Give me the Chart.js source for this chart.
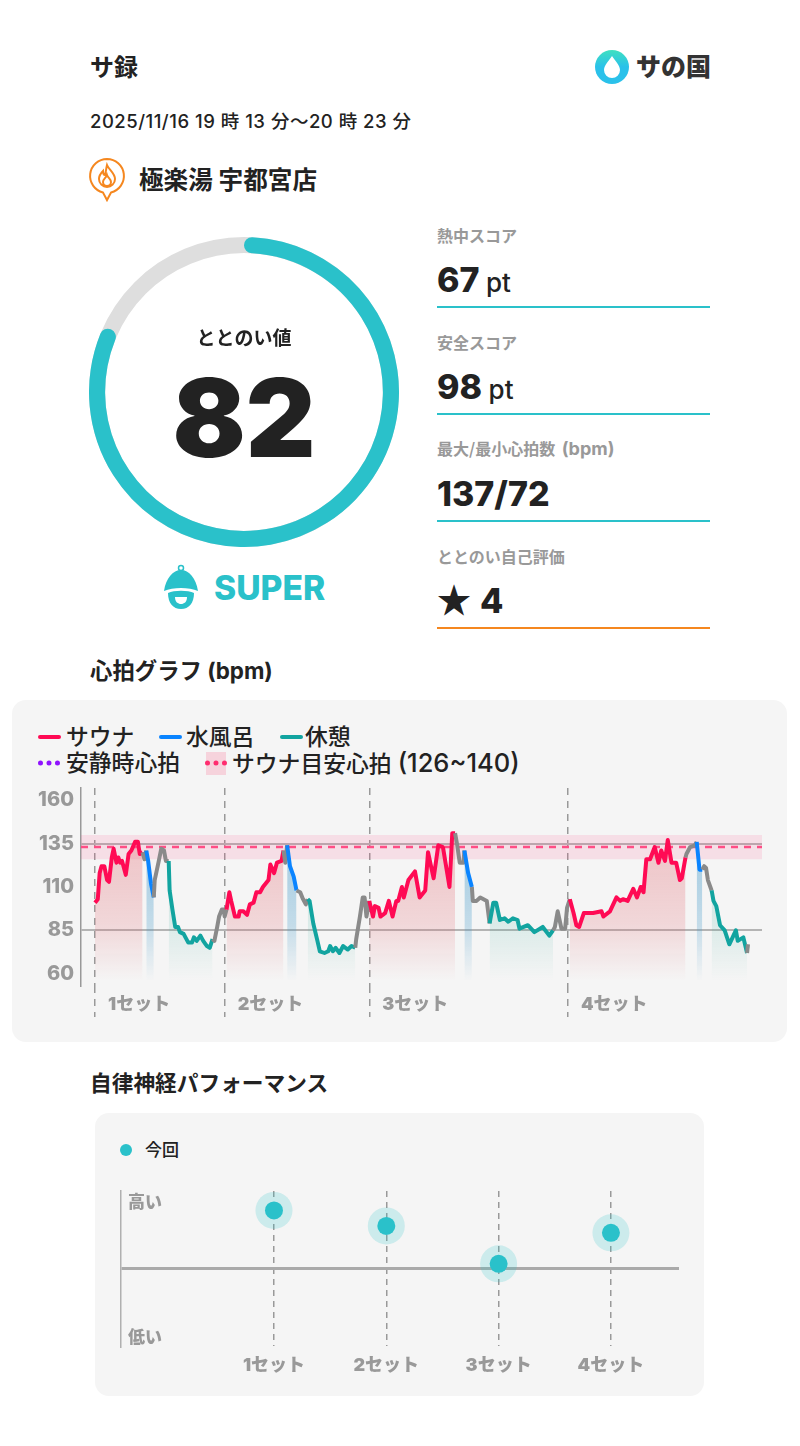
<!DOCTYPE html>
<html lang="ja">
<head>
<meta charset="utf-8">
<title>サ録</title>
<script src="https://cdn.jsdelivr.net/npm/chart.js@4/dist/chart.umd.min.js"></script>
<style>
html, body { margin: 0; padding: 0; background: #fff; }
body { position: relative; width: 800px; height: 1446px; overflow: hidden; font-family: Inter, "Noto Sans CJK JP", sans-serif; color: #222; }
.t { position: absolute; line-height: 1; white-space: nowrap; transform: translateY(-50%); }
.b { font-weight: 700; }
.cap { font-size: 16px; font-weight: 700; color: #999; font-family: "Noto Sans CJK JP", sans-serif; margin-top: -1px; }
.big { font-size: 34px; font-weight: 800; }
.unit { font-size: 26px; font-weight: 500; margin-left: 2px; }
.rule { position: absolute; left: 437px; width: 273px; height: 2px; background: #2ac1ca; }
.card { position: absolute; background: #f5f5f5; border-radius: 14px; }
.swatch { position: absolute; height: 4px; border-radius: 2px; transform: translateY(-50%); }
.leg { font-size: 22.8px; font-weight: 500; }
canvas { position: absolute; }
</style>
</head>
<body>
<div class="t b" style="left:90px;top:68px;font-size:24px">サ録</div>
<div class="t" style="left:90px;top:121px;font-size:18.5px;font-weight:500;letter-spacing:.5px">2025/11/16 19 時 13 分～20 時 23 分</div>

<svg style="position:absolute;left:594px;top:49px" width="36" height="36" viewBox="0 0 36 36">
  <defs><linearGradient id="logoGrad" x1="0" y1="0" x2="0" y2="1"><stop offset="0" stop-color="#3fe0c0"/><stop offset=".5" stop-color="#2ac1ea"/></linearGradient></defs>
  <circle cx="18" cy="18" r="17" fill="url(#logoGrad)"/>
  <path d="M18 7 C21 12 26 16 26 21 A8 8 0 0 1 10 21 C10 16 15 12 18 7Z" fill="#fff"/>
</svg>
<div class="t" style="left:636px;top:67px;font-size:25px;font-weight:900;color:#333">サの国</div>

<svg style="position:absolute;left:88px;top:157px" width="38" height="46" viewBox="0 0 38 46">
  <path d="M19 2 A17 17 0 0 1 23 35.5 L19 43 L15 35.5 A17 17 0 0 1 19 2Z" fill="none" stroke="#f5871f" stroke-width="2"/>
  <path d="M19 8 C21 13 27 16 27 22 A8 8 0 0 1 11 22 C11 18 13 16 15 14 C15 17 16 18 17 18 C18 15 18 12 19 8Z M19 18 C20 21 23 22 23 25 A4 4 0 0 1 15 25 C15 22 18 21 19 18Z" fill="none" stroke="#f5871f" stroke-width="2"/>
</svg>
<div class="t b" style="left:139px;top:180px;font-size:24.6px">極楽湯 宇都宮店</div>

<canvas id="ringTrack" width="310" height="310" style="left:89px;top:237px"></canvas>
<canvas id="ringValue" width="310" height="310" style="left:89px;top:237px"></canvas>
<div class="t b" style="left:89px;width:310px;text-align:center;top:338px;font-size:19px">ととのい値</div>
<div class="t" style="left:89px;width:310px;text-align:center;top:418px;font-size:108px;font-weight:900">82</div>

<svg style="position:absolute;left:161px;top:564px" width="40" height="48" viewBox="0 0 40 48">
  <circle cx="20" cy="4" r="2.5" fill="none" stroke="#2ac1ca" stroke-width="1.5"/>
  <path d="M3 27 C5 14 12 6 20 6 C28 6 35 14 37 27 C28 23 12 23 3 27Z" fill="#2ac1ca"/>
  <path d="M7 29 C13 26 27 26 33 29 C33 39 28 45 20 45 C12 45 7 39 7 29Z" fill="#2ac1ca"/>
  <path d="M14 33 H26 C26 38 23 40 20 40 C17 40 14 38 14 33Z" fill="#fff"/>
</svg>
<div class="t" style="left:214px;top:588px;font-size:33.6px;font-weight:800;color:#2ac1ca">SUPER</div>

<div class="t cap" style="left:437px;top:236px">熱中スコア</div>
<div class="t" style="left:437px;top:280px"><span class="big">67</span> <span class="unit">pt</span></div>
<div class="rule" style="top:306px"></div>
<div class="t cap" style="left:437px;top:343px">安全スコア</div>
<div class="t" style="left:437px;top:387px"><span class="big">98</span> <span class="unit">pt</span></div>
<div class="rule" style="top:413px"></div>
<div class="t cap" style="left:437px;top:450px">最大/最小心拍数 <span style="font-family:Inter;font-size:18px;margin-left:3px">(bpm)</span></div>
<div class="t big" style="left:437px;top:494px">137/72</div>
<div class="rule" style="top:520px"></div>
<div class="t cap" style="left:437px;top:557px">ととのい自己評価</div>
<div class="t" style="left:437px;top:600px"><span class="big" style="font-family:'Noto Sans CJK JP'">★</span><span class="big" style="margin-left:9px">4</span></div>
<div class="rule" style="top:627px;background:#f5871f"></div>

<div class="t b" style="left:90px;top:671px;font-size:22.4px">心拍グラフ (bpm)</div>
<div class="card" style="left:12px;top:700px;width:775px;height:342px"></div>
<div class="swatch" style="left:38px;top:737px;width:23px;background:#ff0a54"></div>
<div class="t leg" style="left:66px;top:737px">サウナ</div>
<div class="swatch" style="left:159px;top:737px;width:23px;background:#0a84ff"></div>
<div class="t leg" style="left:186px;top:737px">水風呂</div>
<div class="swatch" style="left:280px;top:737px;width:23px;background:#12a4a0"></div>
<div class="t leg" style="left:305px;top:737px">休憩</div>
<div class="swatch" style="left:38px;top:763px;width:22px;height:0;border-radius:0;border-top:5px dotted #9013fe"></div>
<div class="t leg" style="left:66px;top:763px">安静時心拍</div>
<div style="position:absolute;left:206px;top:752px;width:20px;height:23px;background:#f6d3dc"></div>
<div class="swatch" style="left:205px;top:763px;width:22px;height:0;border-radius:0;border-top:5px dotted #ff2d6f"></div>
<div class="t leg" style="left:232px;top:763px">サウナ目安心拍 <span style="font-size:25.5px">(126~140)</span></div>
<canvas id="heartChart" width="775" height="250" style="left:12px;top:780px"></canvas>

<div class="t b" style="left:90px;top:1084px;font-size:21.7px">自律神経パフォーマンス</div>
<div class="card" style="left:95px;top:1113px;width:609px;height:283px"></div>
<div style="position:absolute;left:120px;top:1144px;width:12px;height:12px;border-radius:50%;background:#2ac1ca"></div>
<div class="t" style="left:145px;top:1150px;font-size:17px;font-weight:500">今回</div>
<canvas id="nerveChart" width="609" height="206" style="left:95px;top:1180px"></canvas>

<script>
// Heart rate trace: minutes since 19:13, bpm
const minutes = [
    0, 0.3, 0.5, 0.7, 1.0, 1.3, 1.5, 1.8, 2.0, 2.3, 2.5, 2.7, 2.9, 3.3, 3.6, 3.9, 4.3, 4.6, 4.8, 5.1,
    5.3, 5.5, 5.7, 6.0, 6.3, 6.4, 6.8, 7.1, 7.4, 7.6,
    7.9, 8.0, 8.3, 8.6, 8.9, 9.1, 9.5, 10, 10.4, 10.6, 10.9, 11.3, 11.6, 12, 12.3, 12.6,
    12.8, 13.1, 13.3, 13.6, 13.8, 13.9,
    14.1, 14.4, 14.6, 15, 15.4, 15.5, 15.9, 16.3, 16.6, 17, 17.3, 17.7, 18, 18.6, 18.8, 19.2, 19.5, 20, 20.2,
    20.4, 20.6, 20.9, 21.3, 21.6, 22, 22.3, 22.6,
    22.8, 23, 23.4, 23.8, 24.1, 24.6, 25, 25.2, 25.5, 25.8, 26.2, 26.6, 27.1, 27.5, 27.9,
    28, 28.4, 28.7, 28.9, 29.1,
    29.4, 29.8, 30, 30.4, 30.6, 31.1, 31.5, 31.9, 32.3, 32.5, 32.9, 33.1, 33.6, 34.3, 34.8, 35.4, 35.7, 36.3, 36.8, 37.3, 38, 38.3, 38.6,
    38.8, 39.1, 39.5, 39.6, 40, 40.4, 40.5, 40.9, 41.3, 42, 42.3,
    42.7, 43, 43.4, 43.9, 44.3, 44.8, 45.3, 45.5, 46.4, 47.1, 48, 48.7, 49.1,
    49.3, 49.6, 50, 50.4, 50.6,
    50.9, 51.3, 51.6, 51.9, 52.4, 53.4, 54.3, 54.5, 55.2, 55.9, 56.3, 56.6, 57.1, 57.7, 58.1, 58.5, 58.8, 59.1, 59.5, 60, 60.4, 60.7, 61.1, 61.4, 61.8, 62.3, 62.7, 62.9, 63.3,
    63.4, 63.8, 64.3, 64.5, 64.8, 65.1, 65.3, 65.5, 65.7, 66.1,
    66.3, 66.6, 67, 67.5, 68, 68.7, 68.9, 69.5, 69.9, 70
];
const bpm = [
    101, 103, 118, 122, 122, 114, 113, 127, 132, 124, 127, 124, 125, 117, 129, 131, 136, 136, 129, 130,
    126, 131, 125, 112, 104, 114, 124, 132, 131, 125,
    125, 108, 97, 87, 87, 84, 83, 78, 78, 81, 79, 82, 79, 76, 75, 80,
    79, 87, 93, 97, 97, 93,
    97, 107, 102, 93, 93, 96, 96, 94, 100, 101, 107, 107, 110, 114, 123, 118, 124, 125, 131,
    124, 134, 122, 116, 108, 107, 103, 100,
    103, 102, 89, 80, 73, 72, 73, 76, 73, 75, 72, 76, 74, 76, 75,
    80, 93, 104, 104, 93,
    102, 93, 99, 98, 93, 95, 102, 93, 102, 102, 110, 104, 114, 119, 104, 108, 130, 115, 134, 133, 110, 141, 141,
    135, 124, 124, 131, 118, 110, 102, 102, 104, 102, 89,
    101, 101, 91, 92, 90, 92, 91, 86, 88, 84, 87, 82, 85,
    87, 96, 86, 86, 98,
    103, 95, 88, 87, 95, 95, 96, 93, 96, 104, 102, 103, 102, 109, 104, 110, 107, 126, 126, 133, 124, 131, 125, 137, 124, 124, 114, 115, 127,
    129, 133, 134, 136, 120, 120, 122, 121, 114, 108,
    102, 99, 88, 85, 77, 85, 79, 81, 72, 77
];

// Phases in minutes
const saunaRanges = [[0, 5.1], [14.1, 20.2], [29.4, 38.6], [50.9, 63.3]];
const waterRanges = [[5.5, 6.3], [20.6, 21.6], [39.6, 40.4], [64.5, 65.1]];
const restRanges = [[7.9, 12.6], [22.8, 27.9], [42.3, 49.1], [66.1, 69.9]];

const setStarts = [0, 13.9, 29.4, 50.7];
const heartTicks = [60, 85, 110, 135, 160];
const heartGuides = [85, 135];
const targetLow = 126;
const targetHigh = 140;
const targetMid = 133;

// Autonomic performance per set
const setNumbers = [1, 2, 3, 4];
const nerveValues = [75, 55, 6, 46];

const GREY = '#999999';
const COLORS = { sauna: '#ff0a54', water: '#0a84ff', rest: '#12a4a0', idle: '#8a8a8a' };
const FONT = 'Inter, "Noto Sans CJK JP", sans-serif';

Chart.defaults.font.family = FONT;
Chart.defaults.animation = false;
Chart.defaults.plugins.legend.display = false;
Chart.defaults.plugins.tooltip.enabled = false;

const inRanges = (m, ranges) => ranges.some(([a, b]) => m >= a && m <= b);

const phaseColor = (m0, m1) => {
    const both = (r) => r.some(([a, b]) => m0 >= a && m0 <= b && m1 >= a && m1 <= b);
    if (both(saunaRanges)) return COLORS.sauna;
    if (both(waterRanges)) return COLORS.water;
    if (both(restRanges)) return COLORS.rest;
    return COLORS.idle;
};

const trace = minutes.map((m, i) => ({ x: m, y: bpm[i] }));

const areaData = (ranges) => minutes.map((m, i) => ({ x: m, y: inRanges(m, ranges) ? bpm[i] : null }));

// Gradient fades out towards the bottom of the plot
const fadeFill = (rgb, alpha) => (ctx) => {
    const { chart } = ctx;
    if (!chart.chartArea) return 'transparent';
    const y = chart.scales.y;
    const g = chart.ctx.createLinearGradient(0, y.getPixelForValue(130), 0, y.getPixelForValue(56));
    g.addColorStop(0, `rgba(${rgb},${alpha})`);
    g.addColorStop(0.55, `rgba(${rgb},${alpha * 0.65})`);
    g.addColorStop(1, `rgba(${rgb},0)`);
    return g;
};

const areaSet = (ranges, rgb, alpha) => ({
    data: areaData(ranges),
    borderWidth: 0,
    pointRadius: 0,
    fill: 'start',
    spanGaps: false,
    backgroundColor: fadeFill(rgb, alpha),
    order: 3
});

// Fixed axis width, and no extra room for the tick labels above the plot
const fitYAxis = (width) => (axis) => {
    axis.width = width;
    axis.paddingTop = 0;
    axis.paddingBottom = 0;
};

new Chart(document.getElementById('heartChart'), {
    type: 'line',
    data: {
        datasets: [
            {
                data: [{ x: -1.5, y: targetHigh }, { x: 71.5, y: targetHigh }],
                borderWidth: 0, pointRadius: 0, fill: '+1',
                backgroundColor: 'rgba(255,60,120,0.12)', order: 5
            },
            {
                data: [{ x: -1.5, y: targetLow }, { x: 71.5, y: targetLow }],
                borderWidth: 0, pointRadius: 0, order: 5
            },
            {
                data: [{ x: -1.5, y: targetMid }, { x: 71.5, y: targetMid }],
                borderColor: '#ff4d85', borderWidth: 2.5, borderDash: [7, 6], pointRadius: 0, order: 2
            },
            areaSet(saunaRanges, '225,90,100', 0.3),
            areaSet(waterRanges, '60,150,200', 0.42),
            areaSet(restRanges, '40,170,150', 0.2),
            {
                data: trace,
                borderWidth: 4,
                borderJoinStyle: 'round',
                pointRadius: 0,
                tension: 0,
                order: 1,
                segment: {
                    borderColor: (ctx) => phaseColor(ctx.p0.parsed.x, ctx.p1.parsed.x)
                }
            }
        ]
    },
    options: {
        responsive: false,
        layout: { autoPadding: false, padding: { top: 8, right: 25, left: 0, bottom: 0 } },
        scales: {
            x: {
                type: 'linear',
                min: -1.5,
                max: 71.5,
                afterBuildTicks: (axis) => { axis.ticks = setStarts.map((v) => ({ value: v })); },
                afterFit: (axis) => { axis.height = 44; },
                border: { display: false, dash: [7, 6] },
                grid: { color: GREY, lineWidth: 1.5, tickLength: 31, tickColor: GREY, tickBorderDash: [7, 6], tickWidth: 1.5 },
                ticks: {
                    align: 'start',
                    labelOffset: 13,
                    padding: -23,
                    maxRotation: 0,
                    autoSkip: false,
                    color: GREY,
                    font: { size: 18, weight: '900' },
                    callback: (v, i) => `${i + 1}セット`
                }
            },
            y: {
                min: 53,
                max: 167,
                afterBuildTicks: (axis) => { axis.ticks = heartTicks.map((v) => ({ value: v })); },
                afterFit: fitYAxis(69),
                border: { color: GREY, width: 1.5 },
                grid: {
                    drawTicks: false,
                    lineWidth: 2,
                    color: (ctx) => (heartGuides.includes(ctx.tick.value) ? '#b4b4b4' : 'transparent')
                },
                ticks: { padding: 7, color: GREY, font: { size: 20, weight: '800' } }
            }
        }
    }
});

// Ring gauge
const ringOptions = {
    responsive: false,
    cutout: '89.6%',
    layout: { padding: 0 }
};
const gaugeValue = 82;
new Chart(document.getElementById('ringTrack'), {
    type: 'doughnut',
    data: { datasets: [{ data: [100], backgroundColor: ['#dedede'], borderWidth: 0 }] },
    options: ringOptions
});
new Chart(document.getElementById('ringValue'), {
    type: 'doughnut',
    data: {
        datasets: [{
            data: [gaugeValue, 100 - gaugeValue],
            backgroundColor: ['#2ac1ca', 'transparent'],
            borderWidth: 0,
            borderRadius: [8, 0]
        }]
    },
    options: ringOptions
});

// Autonomic performance chart
new Chart(document.getElementById('nerveChart'), {
    type: 'scatter',
    data: {
        datasets: [
            {
                data: setNumbers.map((s, i) => ({ x: s, y: nerveValues[i] })),
                pointRadius: 9,
                backgroundColor: '#2ac1ca',
                borderWidth: 0,
                clip: false,
                order: 1
            },
            {
                data: setNumbers.map((s, i) => ({ x: s, y: nerveValues[i] })),
                pointRadius: 18.5,
                backgroundColor: 'rgba(42,193,202,0.2)',
                borderWidth: 0,
                clip: false,
                order: 2
            }
        ]
    },
    options: {
        responsive: false,
        layout: { autoPadding: false, padding: { top: 11, right: 25, left: 0, bottom: 0 } },
        scales: {
            x: {
                type: 'linear',
                min: -0.362,
                max: 4.606,
                afterBuildTicks: (axis) => { axis.ticks = setNumbers.map((v) => ({ value: v })); },
                afterFit: (axis) => { axis.height = 40; },
                border: { display: false, dash: [6, 5] },
                grid: { color: GREY, lineWidth: 1.5, drawTicks: false },
                ticks: {
                    padding: 9,
                    maxRotation: 0,
                    autoSkip: false,
                    color: GREY,
                    font: { size: 18, weight: '900' },
                    callback: (v) => `${v}セット`
                }
            },
            y: {
                min: -100,
                max: 100,
                afterBuildTicks: (axis) => { axis.ticks = [85, 0, -90].map((v) => ({ value: v })); },
                afterFit: fitYAxis(26),
                border: { color: '#b0b0b0', width: 1.5 },
                grid: {
                    drawTicks: false,
                    lineWidth: 3,
                    color: (ctx) => (ctx.tick.value === 0 ? '#aaaaaa' : 'transparent')
                },
                ticks: {
                    mirror: true,
                    padding: 7,
                    color: GREY,
                    font: { size: 17, weight: '900' },
                    callback: (v) => (v > 0 ? '高い' : v < 0 ? '低い' : '')
                }
            }
        }
    }
});
</script>
</body>
</html>
